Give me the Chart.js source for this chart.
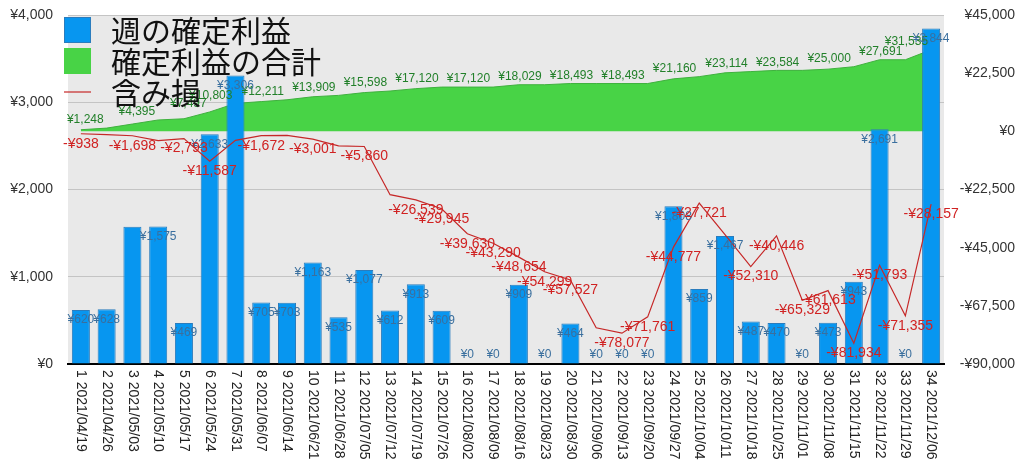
<!DOCTYPE html>
<html lang="ja">
<head>
<meta charset="utf-8">
<title>週の確定利益</title>
<script src="https://cdn.jsdelivr.net/npm/chart.js@4.4.1/dist/chart.umd.min.js"></script>
<style>
  html, body { margin: 0; padding: 0; background: #fff; }
  #wrap { width: 1024px; height: 471px; position: relative; }
</style>
</head>
<body>
<div id="wrap"><canvas id="profitChart"></canvas></div>
<script>
// 週ごとの日付
const dates = ['2021/04/19', '2021/04/26', '2021/05/03', '2021/05/10', '2021/05/17', '2021/05/24', '2021/05/31',
    '2021/06/07', '2021/06/14', '2021/06/21', '2021/06/28', '2021/07/05', '2021/07/12', '2021/07/19', '2021/07/26',
    '2021/08/02', '2021/08/09', '2021/08/16', '2021/08/23', '2021/08/30', '2021/09/06', '2021/09/13', '2021/09/20',
    '2021/09/27', '2021/10/04', '2021/10/11', '2021/10/18', '2021/10/25', '2021/11/01', '2021/11/08', '2021/11/15',
    '2021/11/22', '2021/11/29', '2021/12/06'];

// 週の確定利益 (左軸)
const weekProfit = [620, 628, 1572, 1575, 469, 2633, 3306, 705, 703, 1163, 535, 1077, 612, 913, 609, 0, 0,
    909, 0, 464, 0, 0, 0, 1808, 859, 1467, 487, 470, 0, 473, 943, 2691, 0, 3844];

// 確定利益の合計 (右軸)
const totalProfit = [620, 1248, 2820, 4395, 4864, 7497, 10803, 11508, 12211, 13374, 13909, 14986, 15598, 16511,
    17120, 17120, 17120, 18029, 18029, 18493, 18493, 18493, 18493, 20301, 21160, 22627, 23114, 23584, 23584,
    24057, 25000, 27691, 27691, 31535];

// 含み損 (右軸)
const unrealized = [-938, -1300, -1698, -3600, -2793, -11587, -3500, -1672, -1600, -3001, -5600, -5860, -24500,
    -26539, -29945, -39630, -43290, -48654, -54299, -57527, -76000, -78077, -71761, -44777, -27721, -40000,
    -52310, -40446, -65329, -61613, -81934, -51793, -71355, -28157];

// 値ラベルを表示する週 (1始まり)
const profitLabelHidden = [3];
const totalLabelShown = [2, 4, 6, 7, 9, 11, 13, 15, 17, 19, 21, 23, 25, 27, 29, 31, 33, 34];
const unrealizedLabelHidden = [2, 4, 7, 9, 11, 13, 21, 26];

const legendItems = [
    { text: '週の確定利益', kind: 'box', color: '#0796f0', border: '#2a7cbd' },
    { text: '確定利益の合計', kind: 'box', color: '#48d346', border: '#48d346' },
    { text: '含み損', kind: 'line', color: '#c62828' }
];

const numFont = '"Liberation Sans", Arial, sans-serif';
const jpFont = '"Noto Sans CJK JP", sans-serif';

function yen(v) {
    return (v < 0 ? '-' : '') + '¥' + Math.abs(v).toLocaleString('en-US');
}

//=======================================================================================
// グラフ背景 ============================================================================
//=======================================================================================
const plotBg = {
    id: 'plotBg',
    beforeDraw(chart) {
        const a = chart.chartArea, ctx = chart.ctx;
        ctx.save();
        ctx.fillStyle = '#e9e9e9';
        ctx.fillRect(a.left, a.top, a.right - a.left, a.bottom - a.top);
        ctx.restore();
    }
};

//=======================================================================================
// 値ラベル・縦書きの日付・凡例 ===========================================================
//=======================================================================================
const overlay = {
    id: 'overlay',
    afterDraw(chart) {
        const ctx = chart.ctx, a = chart.chartArea;
        const bars = chart.getDatasetMeta(0).data;
        const area = chart.getDatasetMeta(1).data;
        const line = chart.getDatasetMeta(2).data;
        ctx.save();

        // 確定利益の合計
        ctx.font = '12px ' + numFont;
        ctx.fillStyle = '#22802a';
        ctx.textAlign = 'right';
        ctx.textBaseline = 'middle';
        totalLabelShown.forEach((w) => {
            const p = area[w - 1];
            ctx.fillText(yen(totalProfit[w - 1]), p.x - 3, p.y - 8);
        });

        // 週の確定利益
        ctx.fillStyle = '#3a6f9e';
        ctx.textAlign = 'center';
        bars.forEach((b, i) => {
            if (profitLabelHidden.includes(i + 1)) return;
            const y = weekProfit[i] === 0 ? b.base - 9 : b.y + 10;
            ctx.fillText(yen(weekProfit[i]), b.x, y);
        });

        // 含み損
        ctx.font = '14px ' + numFont;
        ctx.fillStyle = '#d02222';
        line.forEach((p, i) => {
            if (unrealizedLabelHidden.includes(i + 1)) return;
            ctx.fillText(yen(unrealized[i]), p.x, p.y + 10);
        });

        // 日付ラベル
        const xs = chart.scales.x;
        ctx.font = '14px ' + numFont;
        ctx.fillStyle = '#222';
        ctx.textAlign = 'left';
        dates.forEach((d, i) => {
            ctx.save();
            ctx.translate(xs.getPixelForTick(i), a.bottom + 6);
            ctx.rotate(Math.PI / 2);
            ctx.fillText((i + 1) + ' ' + d, 0, 0);
            ctx.restore();
        });

        // 凡例
        ctx.font = '30px ' + jpFont;
        legendItems.forEach((it, i) => {
            const cy = a.top + 15 + i * 31;
            if (it.kind === 'box') {
                ctx.fillStyle = it.color;
                ctx.fillRect(a.left - 4, cy - 13, 27, 26);
                ctx.strokeStyle = it.border;
                ctx.lineWidth = 1;
                ctx.strokeRect(a.left - 3.5, cy - 12.5, 26, 25);
            } else {
                ctx.strokeStyle = it.color;
                ctx.lineWidth = 1.2;
                ctx.beginPath();
                ctx.moveTo(a.left - 4, cy);
                ctx.lineTo(a.left + 23, cy);
                ctx.stroke();
            }
            ctx.fillStyle = '#111';
            ctx.fillText(it.text, a.left + 43, cy + 1);
        });
        ctx.restore();
    }
};

function createProfitChart() {
    const ctx = document.getElementById('profitChart');

    const data = {
        labels: dates.map((d, i) => (i + 1) + ' ' + d),
        datasets: [
            {
                type: 'bar',
                label: '週の確定利益',
                data: weekProfit,
                yAxisID: 'y',
                backgroundColor: '#0796f0',
                borderColor: '#2a7cbd',
                borderWidth: 1,
                barPercentage: 0.7,
                categoryPercentage: 1.0,
                order: 2
            },
            {
                type: 'line',
                label: '確定利益の合計',
                data: totalProfit,
                yAxisID: 'y1',
                backgroundColor: '#48d346',
                borderColor: '#3fb13e',
                borderWidth: 1,
                pointRadius: 0,
                tension: 0,
                fill: 'origin',
                order: 3
            },
            {
                type: 'line',
                label: '含み損',
                data: unrealized,
                yAxisID: 'y1',
                borderColor: '#c62828',
                borderWidth: 1.2,
                pointRadius: 0,
                tension: 0,
                fill: false,
                order: 1
            }
        ]
    };

    const config = {
        type: 'bar',
        data: data,
        options: {
            responsive: true,
            maintainAspectRatio: false,
            animation: false,
            layout: { padding: { top: 15, right: 9, left: 0, bottom: 0 } },
            plugins: {
                legend: { display: false },
                tooltip: { enabled: false },
                title: { display: false }
            },
            scales: {
                x: {
                    offset: true,
                    grid: { display: false },
                    border: { display: true, color: '#000', width: 2 },
                    ticks: { display: false },
                    afterFit: (s) => { s.height = 107; }
                },
                y: {
                    position: 'left',
                    min: 0,
                    max: 4000,
                    ticks: {
                        stepSize: 1000,
                        padding: 15,
                        color: '#333',
                        font: { size: 14, family: numFont },
                        callback: (v) => yen(v)
                    },
                    grid: { color: '#c4c4c4', lineWidth: 1, drawTicks: false },
                    border: { display: false },
                    afterFit: (s) => { s.width = 68; s.paddingTop = 0; s.paddingBottom = 0; }
                },
                y1: {
                    position: 'right',
                    min: -90000,
                    max: 45000,
                    ticks: {
                        stepSize: 22500,
                        crossAlign: 'far',
                        color: '#333',
                        font: { size: 14, family: numFont },
                        callback: (v) => yen(v)
                    },
                    grid: { display: false, drawTicks: false },
                    border: { display: false },
                    afterFit: (s) => { s.width = 71; s.paddingTop = 0; s.paddingBottom = 0; }
                }
            }
        },
        plugins: [plotBg, overlay]
    };

    return new Chart(ctx, config);
}

createProfitChart();
</script>
</body>
</html>
